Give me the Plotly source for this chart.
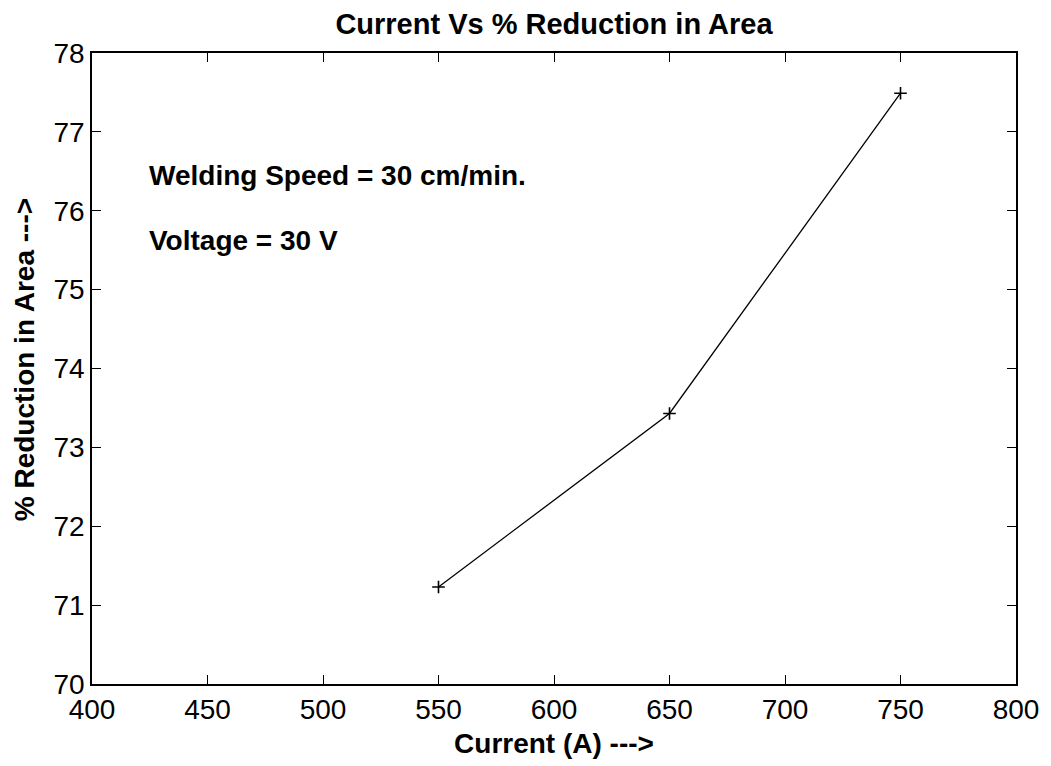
import plotly.graph_objects as go

current = [550, 650, 750]
reduction = [71.23, 73.43, 77.49]
x_ticks = [400, 450, 500, 550, 600, 650, 700, 750, 800]
y_ticks = [70, 71, 72, 73, 74, 75, 76, 77, 78]

FONT = "Liberation Sans, Arial, Helvetica, sans-serif"

fig = go.Figure()
fig.add_trace(go.Scatter(
    x=current, y=reduction, mode="lines+markers",
    line=dict(color="black", width=1.3),
    marker=dict(symbol="cross-thin", size=9, line=dict(color="black", width=1.6)),
    showlegend=False,
))

axis_common = dict(
    showline=True, linecolor="black", linewidth=1.5, mirror="ticks",
    ticks="inside", ticklen=9, tickwidth=1.2, tickcolor="black",
    showgrid=False, zeroline=False,
    tickfont=dict(family=FONT, size=28, color="black"),
)

fig.update_layout(
    width=1051, height=766,
    margin=dict(l=92, r=32, t=53, b=82),
    paper_bgcolor="white", plot_bgcolor="white",
    title=dict(text="<b>Current Vs % Reduction in Area</b>", xref="paper", x=0.5,
               xanchor="center", y=0.969, yanchor="middle",
               font=dict(family=FONT, size=29, color="black")),
    xaxis=dict(range=[400, 800], tickvals=x_ticks,
               title=dict(text="<b>Current (A) ---></b>", standoff=9,
                          font=dict(family=FONT, size=28, color="black")),
               **axis_common),
    yaxis=dict(range=[70, 78], tickvals=y_ticks, **axis_common),
    annotations=[
        dict(text="<b>% Reduction in Area ---></b>", textangle=-90,
             x=24, xref="paper", xanchor="center", y=360, yref="paper", yanchor="middle",
             showarrow=False, font=dict(family=FONT, size=28, color="black")),
        dict(text="<b>Welding Speed = 30 cm/min.</b>", x=424, xref="x", y=76.45, yref="y",
             xanchor="left", yanchor="middle", showarrow=False,
             font=dict(family=FONT, size=28, color="black")),
        dict(text="<b>Voltage = 30 V</b>", x=424, xref="x", y=75.62, yref="y",
             xanchor="left", yanchor="middle", showarrow=False,
             font=dict(family=FONT, size=28, color="black")),
    ],
)

# convert pixel positions of the rotated axis title into paper coordinates
ann = fig.layout.annotations[0]
plot_w = 1051 - 92 - 32
plot_h = 766 - 53 - 82
ann.x = (24 - 92) / plot_w
ann.y = (766 - 82 - 360) / plot_h

fig.write_html("out.html")
